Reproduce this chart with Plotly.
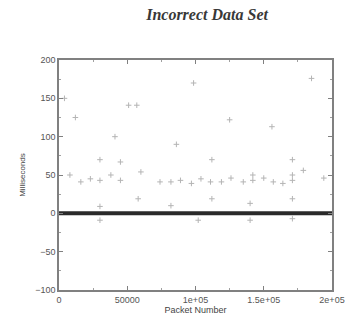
import plotly.graph_objects as go

# Scattered outliers (packet number, milliseconds)
packet_out = [8000, 16000, 23000, 30000, 30000, 38000, 45000, 45000, 41000, 60000, 58000,
              51000, 57000, 74000, 82000, 86000, 89000, 97000, 104000, 111000, 112000, 119000,
              126000, 125000, 98600, 112000, 135000, 142000, 142000, 150000, 157000, 156000,
              164000, 171000, 171000, 171000, 179000, 194000, 185000, 140000, 171000, 30000,
              82000, 4000, 12000]
ms_out = [50, 41, 45, 43, 70, 50, 67, 43, 100, 54, 19,
          141, 141, 41, 41, 90, 43, 39, 45, 41, 70, 41,
          46, 122, 170, 19, 41, 50, 43, 46, 41, 113,
          39, 43, 70, 50, 56, 46, 176, 13, 19, 9,
          10, 150, 125]
# Small negative excursions
packet_neg = [30000, 102000, 140000, 171000]
ms_neg = [-9, -9, -9, -7]
# Baseline band (near-zero delays over all packets)
packet_base = [0, 200000]
ms_base = [0, 0]

x_ticks = [0, 50000, 100000, 150000, 200000]
x_tick_text = ["0", "50000", "1e+05", "1.5e+05", "2e+05"]
y_ticks = [-100, -50, 0, 50, 100, 150, 200]

fig = go.Figure()
fig.add_trace(go.Scatter(x=packet_out + packet_neg, y=ms_out + ms_neg, mode="markers",
                         marker=dict(symbol="cross-thin", size=4,
                                     line=dict(width=1, color="#b4b4b4")),
                         showlegend=False))
fig.add_trace(go.Scatter(x=packet_base, y=ms_base, mode="lines",
                         line=dict(color="#2a2a2a", width=4), showlegend=False))

axis_common = dict(showline=True, linecolor="#808080", linewidth=1.5, mirror="ticks",
                   ticks="inside", ticklen=4, tickcolor="#808080", showgrid=False,
                   zeroline=False, tickfont=dict(family="Liberation Sans", size=9, color="#555555"))
fig.update_xaxes(range=[0, 200000], tickvals=x_ticks, ticktext=x_tick_text,
                 title=dict(text="Packet Number", standoff=3,
                            font=dict(family="Liberation Sans", size=9, color="#444444")),
                 minor=dict(ticks="inside", ticklen=2, tickcolor="#a0a0a0", dtick=25000),
                 **axis_common)
fig.update_yaxes(range=[-100, 200], tickvals=y_ticks,
                 title=dict(text="Milliseconds", standoff=8,
                            font=dict(family="Liberation Sans", size=8, color="#444444")),
                 minor=dict(ticks="inside", ticklen=2, tickcolor="#a0a0a0", dtick=25),
                 **axis_common)
fig.update_layout(
    width=357, height=326,
    margin=dict(l=59, r=12, t=60, b=28),
    paper_bgcolor="white", plot_bgcolor="white",
    title=dict(text="<b><i>Incorrect Data Set</i></b>", x=0.58, xanchor="center", y=0.955,
               yanchor="middle",
               font=dict(family="Liberation Serif", size=16, color="#383838")),
)
fig.write_html("out.html")
